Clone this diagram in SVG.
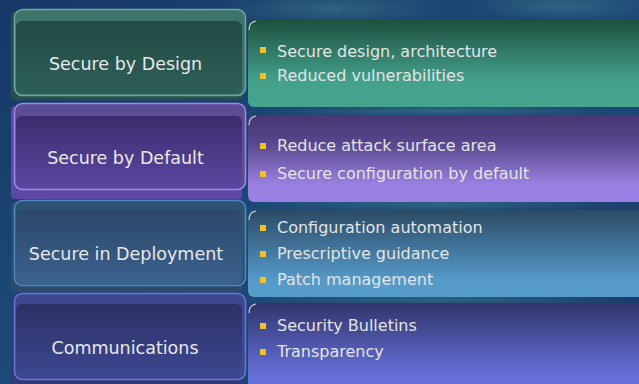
<svg xmlns="http://www.w3.org/2000/svg" width="639" height="384" viewBox="0 0 639 384">
<defs>
<style>
.lbl{font-family:"DejaVu Sans",sans-serif;font-size:17.5px;fill:#e8e8e8;text-anchor:middle}
.itm{font-family:"DejaVu Sans",sans-serif;font-size:16px;fill:#e4e4e4}
.bul{fill:#f4c21c}
.arc{fill:none;stroke:#cfd8e0;stroke-width:1.2}
</style>
<linearGradient id="bg" x1="0" y1="0" x2="1" y2="1">
<stop offset="0" stop-color="#173866"/><stop offset="0.5" stop-color="#1d4a78"/><stop offset="1" stop-color="#183a68"/>
</linearGradient>
<radialGradient id="tex" cx="0.5" cy="0.5" r="0.5"><stop offset="0" stop-color="#3f7d8a" stop-opacity="0.55"/><stop offset="1" stop-color="#3f7d8a" stop-opacity="0"/></radialGradient>
<linearGradient id="g1" x1="0" y1="0" x2="0" y2="1"><stop offset="0" stop-color="#224a44"/><stop offset="1" stop-color="#2e5e58"/></linearGradient>
<linearGradient id="g2" x1="0" y1="0" x2="0" y2="1"><stop offset="0" stop-color="#3c2c6c"/><stop offset="1" stop-color="#5b47a2"/></linearGradient>
<linearGradient id="g3" x1="0" y1="0" x2="0" y2="1"><stop offset="0" stop-color="#2c4768"/><stop offset="1" stop-color="#3c6290"/></linearGradient>
<linearGradient id="g4" x1="0" y1="0" x2="0" y2="1"><stop offset="0" stop-color="#2c3164"/><stop offset="1" stop-color="#3e4892"/></linearGradient>
<linearGradient id="r1" x1="0" y1="0" x2="0" y2="1"><stop offset="0" stop-color="#1e5040"/><stop offset="0.7" stop-color="#43a18c"/><stop offset="1" stop-color="#44a48e"/></linearGradient>
<linearGradient id="r2" x1="0" y1="0" x2="0" y2="1"><stop offset="0" stop-color="#473873"/><stop offset="0.3" stop-color="#55458a"/><stop offset="0.8" stop-color="#9a80e0"/><stop offset="1" stop-color="#9b80e4"/></linearGradient>
<linearGradient id="r3" x1="0" y1="0" x2="0" y2="1"><stop offset="0" stop-color="#2b4a64"/><stop offset="0.8" stop-color="#5599c9"/><stop offset="1" stop-color="#579dcc"/></linearGradient>
<linearGradient id="r4" x1="0" y1="0" x2="0" y2="1"><stop offset="0" stop-color="#31356c"/><stop offset="0.8" stop-color="#6470d8"/><stop offset="1" stop-color="#6672dc"/></linearGradient>
</defs>
<rect width="639" height="384" fill="url(#bg)"/>
<ellipse cx="330" cy="8" rx="120" ry="18" fill="url(#tex)"/>
<ellipse cx="560" cy="6" rx="90" ry="14" fill="url(#tex)"/>
<ellipse cx="440" cy="300" rx="200" ry="8" fill="url(#tex)"/>
<ellipse cx="440" cy="204" rx="180" ry="8" fill="url(#tex)"/>
<ellipse cx="440" cy="111" rx="180" ry="6" fill="url(#tex)"/>

<g id="node-design">
<rect x="11" y="12" width="231" height="88" rx="4" fill="#27504a"/>
<rect x="14.5" y="9.5" width="231" height="86" rx="8" fill="#3f746c" stroke="#64aaa2" stroke-width="1.5"/>
<rect x="16" y="21" width="226" height="73" rx="6" fill="url(#g1)"/>
<text class="lbl" x="125.5" y="70">Secure by Design</text>
</g>
<g id="node-default">
<rect x="11" y="106" width="231" height="93" rx="4" fill="#5e48a5"/>
<rect x="14.5" y="103.5" width="231" height="86" rx="8" fill="#5c4c94" stroke="#a088e8" stroke-width="1.5"/>
<rect x="16" y="116" width="226" height="72" rx="6" fill="url(#g2)"/>
<text class="lbl" x="125.5" y="164">Secure by Default</text>
</g>
<g id="node-deployment">
<rect x="11" y="202" width="231" height="90" rx="4" fill="#2d4a6a"/>
<rect x="14.5" y="200.5" width="231" height="85" rx="8" fill="#2e5474" stroke="#4a8cc8" stroke-width="1.5"/>
<rect x="16" y="210" width="226" height="74" rx="6" fill="url(#g3)"/>
<text class="lbl" x="126" y="260">Secure in Deployment</text>
</g>
<g id="node-communications">
<rect x="11" y="296" width="231" height="88" rx="4" fill="#33397a"/>
<rect x="14.5" y="293.5" width="231" height="86" rx="8" fill="#3e4890" stroke="#6a74dc" stroke-width="1.5"/>
<rect x="16" y="304" width="226" height="74" rx="6" fill="url(#g4)"/>
<text class="lbl" x="125" y="354">Communications</text>
</g>

<g id="detail-design">
<rect x="248" y="20" width="400" height="87" rx="6" fill="url(#r1)"/>
<path class="arc" d="M249,30 Q249,22 256,21"/>
<rect class="bul" x="260" y="47" width="6" height="6"/>
<text class="itm" x="277" y="57">Secure design, architecture</text>
<rect class="bul" x="260" y="73" width="6" height="6"/>
<text class="itm" x="277" y="81">Reduced vulnerabilities</text>
</g>
<g id="detail-default">
<rect x="248" y="115" width="400" height="87" rx="6" fill="url(#r2)"/>
<path class="arc" d="M249,125 Q249,117 256,116"/>
<rect class="bul" x="260" y="143" width="6" height="6"/>
<text class="itm" x="277" y="151">Reduce attack surface area</text>
<rect class="bul" x="260" y="171" width="6" height="6"/>
<text class="itm" x="277" y="179">Secure configuration by default</text>
</g>
<g id="detail-deployment">
<rect x="248" y="210" width="400" height="87" rx="6" fill="url(#r3)"/>
<path class="arc" d="M249,220 Q249,212 256,211"/>
<rect class="bul" x="260" y="225" width="6" height="6"/>
<text class="itm" x="277" y="233">Configuration automation</text>
<rect class="bul" x="260" y="251" width="6" height="6"/>
<text class="itm" x="277" y="259">Prescriptive guidance</text>
<rect class="bul" x="260" y="277" width="6" height="6"/>
<text class="itm" x="277" y="285">Patch management</text>
</g>
<g id="detail-communications">
<rect x="248" y="303" width="400" height="90" rx="6" fill="url(#r4)"/>
<path class="arc" d="M249,313 Q249,305 256,304"/>
<rect class="bul" x="260" y="323" width="6" height="6"/>
<text class="itm" x="277" y="331">Security Bulletins</text>
<rect class="bul" x="260" y="349" width="6" height="6"/>
<text class="itm" x="277" y="357">Transparency</text>
</g>
<g id="connectors"></g>
</svg>
